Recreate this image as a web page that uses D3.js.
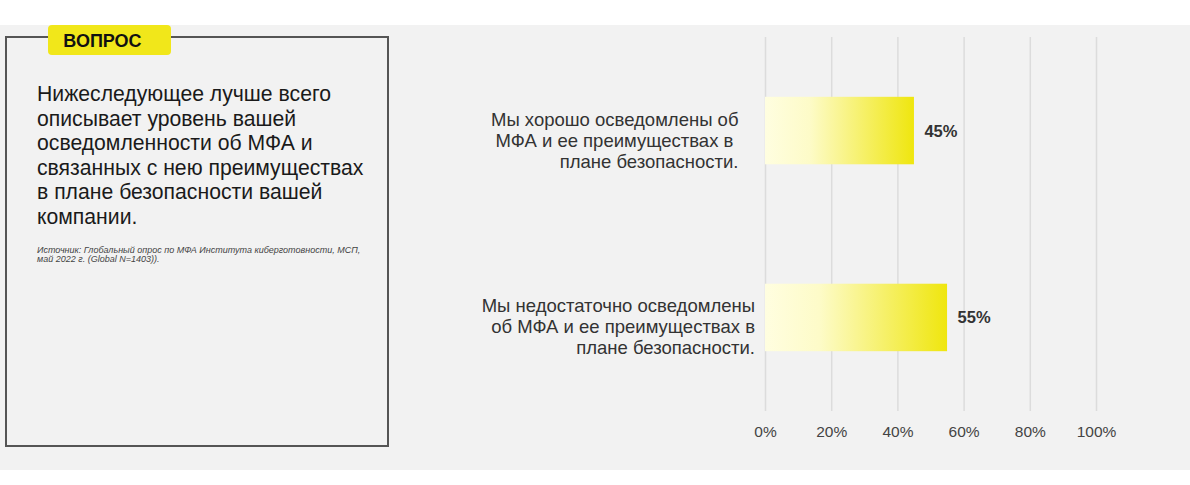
<!DOCTYPE html>
<html><head><meta charset="utf-8">
<script src="https://cdn.jsdelivr.net/npm/d3@7"></script>
<style>
html,body{margin:0;padding:0;background:#fff;}
svg{display:block;font-family:"Liberation Sans",Arial,sans-serif;}
</style></head>
<body>
<svg id="chart" width="1190" height="485"></svg>
<script>
// ---- data ----
const categories = [
  "Мы хорошо осведомлены об\nМФА и ее преимуществах в \nплане безопасности.",
  "Мы недостаточно осведомлены\nоб МФА и ее преимуществах в\nплане безопасности."
];
const values = [45, 55];
const tickValues = [0, 20, 40, 60, 80, 100];
const tickLabels = ["0%", "20%", "40%", "60%", "80%", "100%"];
const badgeText = "ВОПРОС";
const questionLines = [
  "Нижеследующее лучше всего",
  "описывает уровень вашей",
  "осведомленности об МФА и",
  "связанных с нею преимуществах",
  "в плане безопасности вашей",
  "компании."
];
const sourceLines = [
  "Источник: Глобальный опрос по МФА Института киберготовности, МСП,",
  "май 2022 г. (Global N=1403))."
];

// ---- layout ----
const svg = d3.select("#chart");
svg.append("rect").attr("x",0).attr("y",25).attr("width",1190).attr("height",445).attr("fill","#f2f2f2");

// question box
svg.append("rect").attr("x",6).attr("y",37).attr("width",382).attr("height",409)
  .attr("fill","none").attr("stroke","#555").attr("stroke-width",2);
svg.append("rect").attr("x",48).attr("y",25).attr("width",123).attr("height",30).attr("rx",4)
  .attr("fill","#f1e71a");
svg.append("text").attr("x",102.5).attr("y",47).attr("text-anchor","middle")
  .attr("font-size",18).attr("font-weight","bold").attr("fill","#111").text(badgeText);

svg.append("g").selectAll("text").data(questionLines).join("text")
  .attr("x",37).attr("y",(d,i)=>101+i*24.5)
  .attr("font-size",21.2).attr("fill","#1a1a1a").text(d=>d);
svg.append("g").selectAll("text").data(sourceLines).join("text")
  .attr("x",37).attr("y",(d,i)=>252.5+i*9.5)
  .attr("font-size",9).attr("font-style","italic").attr("fill","#444").text(d=>d);

// scales
const x = d3.scaleLinear().domain([0,100]).range([765,1096]);
const y = d3.scaleBand().domain(d3.range(categories.length)).range([37,411])
  .paddingInner(0.639).paddingOuter(0.32);

// gridlines
const grid = svg.append("g").attr("transform","translate(0,411)")
  .call(d3.axisBottom(x).tickValues(tickValues).tickSize(-374).tickFormat(""));
grid.select(".domain").remove();
grid.selectAll(".tick line").attr("stroke","#dcdcdc").attr("stroke-width",1.5);

// tick labels
const ax = svg.append("g").attr("transform","translate(0,411)")
  .call(d3.axisBottom(x).tickValues(tickValues).tickSize(0).tickPadding(0)
    .tickFormat((d,i)=>tickLabels[i]));
ax.select(".domain").remove();
ax.selectAll(".tick text").attr("y",25.5).attr("dy",0).attr("font-size",15.5)
  .attr("font-family","Liberation Sans, Arial, sans-serif").attr("fill","#444");

// gradient
const defs = svg.append("defs");
const grad = defs.append("linearGradient").attr("id","barGrad")
  .attr("x1","0%").attr("x2","100%").attr("y1","0%").attr("y2","0%");
grad.append("stop").attr("offset","0%").attr("stop-color","#fffee0");
grad.append("stop").attr("offset","30%").attr("stop-color","#fdfbc8");
grad.append("stop").attr("offset","100%").attr("stop-color","#efe60e");

// bars
svg.append("g").selectAll("rect").data(values).join("rect")
  .attr("x",x(0)).attr("y",(d,i)=>y(i))
  .attr("width",d=>x(d)-x(0)).attr("height",y.bandwidth())
  .attr("fill","url(#barGrad)");

// value labels
svg.append("g").selectAll("text").data(values).join("text")
  .attr("x",d=>x(d)+10.5).attr("y",(d,i)=>y(i)+y.bandwidth()/2+6)
  .attr("font-size",16.5).attr("font-weight","bold").attr("fill","#333")
  .text(d=>d+"%");

// category labels
const labelRight = [738.5, 755];
categories.forEach((c,i)=>{
  const lines = c.split("\n");
  const cy = y(i)+y.bandwidth()/2 + 16;
  svg.append("text").attr("text-anchor","end").attr("font-size",18.5).attr("fill","#333")
    .style("white-space","pre")
    .selectAll("tspan").data(lines).join("tspan")
    .attr("x",labelRight[i]).attr("y",(d,k)=>cy+(k-1)*21).text(d=>d);
});
</script>
</body></html>
